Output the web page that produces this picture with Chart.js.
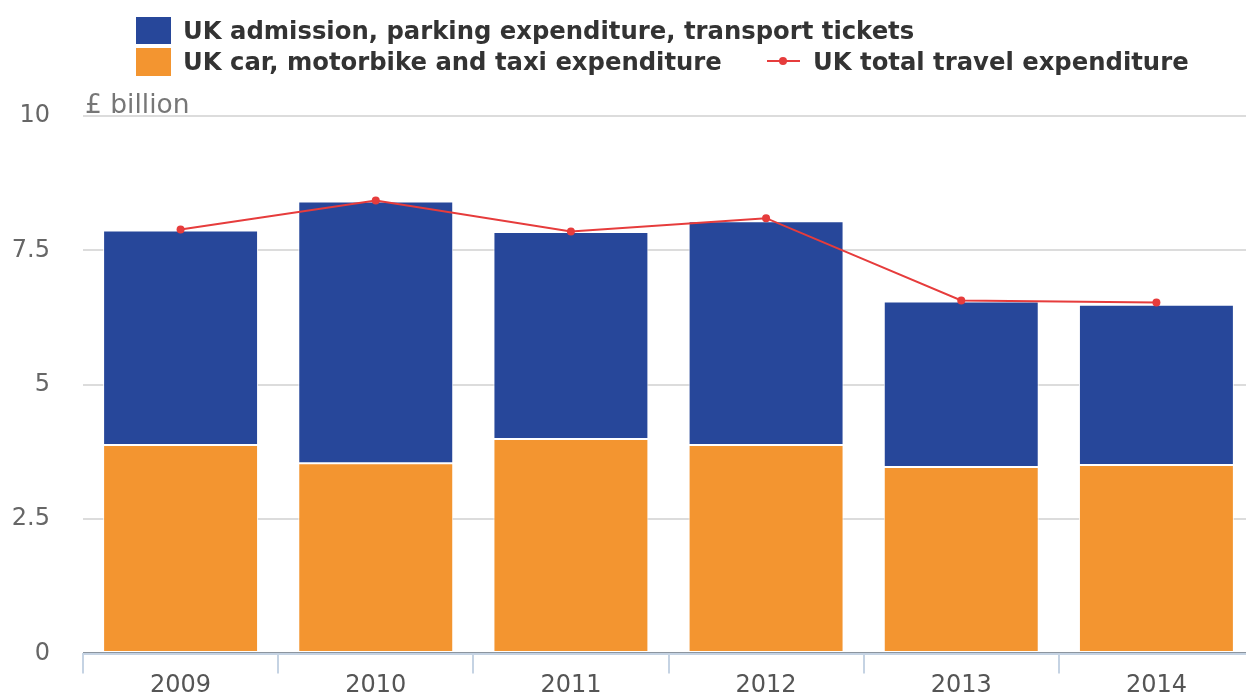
<!DOCTYPE html>
<html>
<head>
<meta charset="utf-8">
<script src="https://cdn.jsdelivr.net/npm/chart.js@4/dist/chart.umd.min.js"></script>
<style>
  html, body { margin: 0; padding: 0; background: #fff; overflow: hidden; }
  #wrap { position: relative; width: 1246px; height: 695px; overflow: hidden; }
  canvas { position: absolute; left: 0; top: 0; }
  .leg { position: absolute; font-family: "DejaVu Sans", sans-serif; font-weight: bold; font-size: 24.3px; color: #333; white-space: nowrap; line-height: 28px; }
  .box { position: absolute; }
  #unit { position: absolute; left: 85px; top: 89px; font-family: "DejaVu Sans", sans-serif; font-size: 26.5px; color: #777; line-height: 30px; white-space: nowrap; }
</style>
</head>
<body>
<div id="wrap">
  <canvas id="c" width="1258" height="701"></canvas>
  <div class="box" style="left:136px; top:17px; width:35px; height:27px; background:#27479a;"></div>
  <div class="leg" style="left:183px; top:17px;">UK admission, parking expenditure, transport tickets</div>
  <div class="box" style="left:136px; top:48px; width:35px; height:28px; background:#f39530;"></div>
  <div class="leg" style="left:183px; top:48px;">UK car, motorbike and taxi expenditure</div>
  <div class="box" style="left:767px; top:60px; width:33px; height:2px; background:#e63c3c;"></div>
  <div class="box" style="left:779px; top:57px; width:8px; height:8px; border-radius:50%; background:#e63c3c;"></div>
  <div class="leg" style="left:813px; top:48px;">UK total travel expenditure</div>
  <div id="unit">£ billion</div>
</div>
<script>
const years = ["2009", "2010", "2011", "2012", "2013", "2014"];
const carMotorbikeTaxi = [3.88, 3.54, 3.99, 3.88, 3.47, 3.51];
const admissionParkingTickets = [3.99, 4.87, 3.85, 4.16, 3.08, 2.98];
const totalTravel = [7.89, 8.43, 7.85, 8.10, 6.57, 6.53];
const yTicks = [0, 2.5, 5, 7.5, 10];

const ctx = document.getElementById('c');
new Chart(ctx, {
  data: {
    labels: years,
    datasets: [
      {
        type: 'line',
        label: 'UK total travel expenditure',
        data: totalTravel,
        stack: 'line',
        order: 0,
        borderColor: '#e63c3c',
        backgroundColor: '#e63c3c',
        borderWidth: 2,
        pointRadius: 4,
        pointHoverRadius: 4,
        pointBorderWidth: 0,
        tension: 0
      },
      {
        type: 'bar',
        label: 'UK car, motorbike and taxi expenditure',
        data: carMotorbikeTaxi,
        stack: 'bars',
        order: 1,
        backgroundColor: '#f39530',
        borderColor: 'rgba(255,255,255,0.9)',
        borderWidth: 1,
        borderSkipped: false,
        barPercentage: 0.794,
        categoryPercentage: 1.0
      },
      {
        type: 'bar',
        label: 'UK admission, parking expenditure, transport tickets',
        data: admissionParkingTickets,
        stack: 'bars',
        order: 1,
        backgroundColor: '#27479a',
        borderColor: 'rgba(255,255,255,0.9)',
        borderWidth: 1,
        borderSkipped: false,
        barPercentage: 0.794,
        categoryPercentage: 1.0
      }
    ]
  },
  options: {
    responsive: false,
    animation: false,
    layout: { padding: { top: 116, left: 0, right: 0, bottom: 0 } },
    plugins: { legend: { display: false }, title: { display: false }, tooltip: { enabled: false } },
    scales: {
      x: {
        stacked: true,
        grid: {
          offset: true,
          drawOnChartArea: false,
          drawTicks: true,
          tickLength: 20,
          color: '#c5d3e3',
          lineWidth: 2
        },
        border: { display: true, color: '#c5d3e3', width: 2 },
        ticks: {
          padding: -2,
          color: '#555',
          font: { family: 'DejaVu Sans', size: 24 }
        },
        afterFit: (s) => { s.height = 43; }
      },
      y: {
        stacked: true,
        min: 0,
        max: 10,
        afterBuildTicks: (s) => { s.ticks = yTicks.map(v => ({ value: v })); },
        grid: {
          drawTicks: false,
          color: (c) => c.tick && c.tick.value === 0 ? '#8c959f' : '#dcdcdc',
          lineWidth: (c) => c.tick && c.tick.value === 0 ? 3 : 2
        },
        border: { display: false },
        ticks: {
          padding: 33,
          color: '#666',
          font: { family: 'DejaVu Sans', size: 24 },
          callback: (v) => String(v)
        },
        afterFit: (s) => { s.width = 83; }
      }
    }
  }
});
</script>
</body>
</html>
